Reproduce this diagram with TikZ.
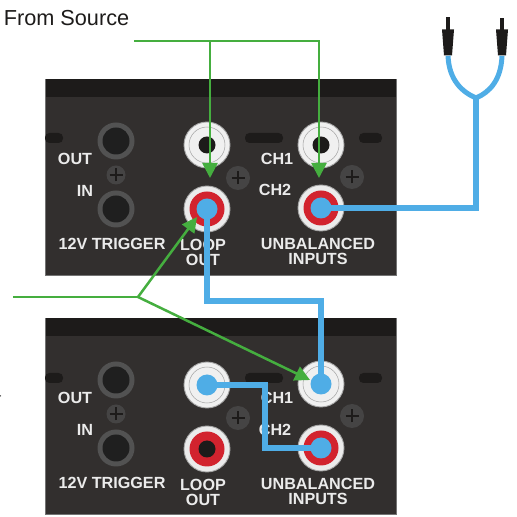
\documentclass[tikz,border=0pt]{standalone}
\usepackage{xcolor}
\usepackage{fontspec}
\setmainfont{Liberation Sans}
\usepackage{tikz}
\usetikzlibrary{arrows.meta, positioning}
\definecolor{panelgray}{HTML}{322F2E}
\definecolor{bandgray}{HTML}{1D1B1A}
\definecolor{jackred}{HTML}{D2232E}
\definecolor{wireblue}{HTML}{4FADE6}
\definecolor{feedgreen}{HTML}{45AE3F}
\definecolor{screwgray}{HTML}{454444}

\begin{document}
\begin{tikzpicture}[
    node distance=1cm,
    on grid,
    panel/.style={draw=black!55, line width=0.3pt, fill=panelgray, minimum width=7.02cm, minimum height=3.92cm, inner sep=0pt},
    band/.style={fill=bandgray, minimum width=7cm, minimum height=0.36cm, inner sep=0pt},
    slot/.style={fill=bandgray, rounded corners=2.5pt, minimum height=0.2cm, inner sep=0pt},
    trigjack/.style={circle, fill=black!68, minimum size=0.74cm, inner sep=0pt, path picture={
        \fill[black!88] (path picture bounding box.center) circle (0.27cm);}},
    whitejack/.style={circle, draw=black!35, line width=0.5pt, fill=white!94!black, minimum size=0.92cm, inner sep=0pt, path picture={
        \draw[black!35, line width=0.3pt] (path picture bounding box.center) circle (0.36cm);
        \fill[bandgray] (path picture bounding box.center) circle (0.17cm);}},
    redjack/.style={circle, draw=black!35, line width=0.5pt, fill=white!92!black, minimum size=0.92cm, inner sep=0pt, path picture={
        \fill[jackred] (path picture bounding box.center) circle (0.35cm);
        \fill[bandgray] (path picture bounding box.center) circle (0.17cm);}},
    screw/.style={circle, fill=screwgray, minimum size=#1, inner sep=0pt, path picture={
        \draw[bandgray, line width=1.3pt] ([xshift=-0.13cm]path picture bounding box.center) -- ([xshift=0.13cm]path picture bounding box.center);
        \draw[bandgray, line width=1.3pt] ([yshift=-0.13cm]path picture bounding box.center) -- ([yshift=0.13cm]path picture bounding box.center);}},
    panellabel/.style={text=white!92!black, align=center, inner sep=0pt, font=\bfseries\fontsize{9.2}{8.6}\selectfont},
    wire/.style={draw=wireblue, line width=0.115cm},
    plugdot/.style={circle, fill=wireblue, minimum size=0.42cm, inner sep=0pt},
    feed/.style={draw=feedgreen, line width=0.05cm},
    feedarrow/.style={feed, -{Triangle[length=0.3cm, width=0.3cm]}},
    plugbody/.style={minimum width=0.24cm, minimum height=0.52cm, inner sep=0pt, path picture={
        \fill[bandgray] (path picture bounding box.north west) -- (path picture bounding box.north east)
            -- ([xshift=-0.04cm]path picture bounding box.south east) -- ([xshift=0.04cm]path picture bounding box.south west) -- cycle;}},
    plugtip/.style={fill=bandgray, minimum width=0.08cm, minimum height=0.26cm, inner sep=0pt}
]
    \useasboundingbox (0,0) rectangle (10.32,10.34);

    % Amplifier panels
    \node[panel] (panelA) at (4.41,6.8) {};
    \node[panel, below=4.78cm of panelA] (panelB) {};
    \node[band, anchor=north] (bandA) at (panelA.north) {};
    \node[band, anchor=north] (bandB) at (panelB.north) {};

    % Slots, upper panel
    \node[slot, minimum width=0.36cm] (slotleftA) at (1.08,7.58) {};
    \node[slot, minimum width=0.76cm, right=4.20cm of slotleftA] (slotmidA) {};
    \node[slot, minimum width=0.46cm, right=2.13cm of slotmidA] (slotrightA) {};

    % Slots, lower panel
    \node[slot, minimum width=0.36cm, below=4.8cm of slotleftA] (slotleftB) {};
    \node[slot, minimum width=0.76cm, below=4.8cm of slotmidA] (slotmidB) {};
    \node[slot, minimum width=0.46cm, below=4.8cm of slotrightA] (slotrightB) {};

    % Jacks, upper panel
    \node[trigjack, above left=0.72cm and 2.09cm of panelA] (outA) {};
    \node[trigjack, below=1.36cm of outA] (inA) {};
    \node[whitejack, above left=0.64cm and 0.27cm of panelA] (loopinA) {};
    \node[redjack, below=1.28cm of loopinA] (loopoutA) {};
    \node[whitejack, right=2.28cm of loopinA] (chonejackA) {};
    \node[redjack, below=1.26cm of chonejackA] (chtwojackA) {};

    % Jacks, lower panel
    \node[trigjack, below=4.78cm of outA] (outB) {};
    \node[trigjack, below=4.78cm of inA] (inB) {};
    \node[whitejack, below=4.8cm of loopinA] (loopinB) {};
    \node[redjack, below=4.8cm of loopoutA] (loopoutB) {};
    \node[whitejack, below=4.78cm of chonejackA] (chonejackB) {};
    \node[redjack, below=4.8cm of chtwojackA] (chtwojackB) {};

    % Screws
    \node[screw=0.38cm, below=0.68cm of outA] (screwtrigA) {};
    \node[screw=0.48cm, below right=0.66cm and 0.62cm of loopinA] (screwloopA) {};
    \node[screw=0.48cm, below right=0.64cm and 0.62cm of chonejackA] (screwchA) {};
    \node[screw=0.38cm, below=0.68cm of outB] (screwtrigB) {};
    \node[screw=0.48cm, below right=0.66cm and 0.62cm of loopinB] (screwloopB) {};
    \node[screw=0.48cm, below right=0.64cm and 0.62cm of chonejackB] (screwchB) {};

    % Labels, upper panel
    \node[panellabel, below left=0.36cm and 0.82cm of outA] (outlabelA) {OUT};
    \node[panellabel, above left=0.36cm and 0.62cm of inA] (inlabelA) {IN};
    \node[panellabel, below left=0.70cm and 0.08cm of inA] (triglabelA) {12V TRIGGER};
    \node[panellabel, below left=0.86cm and 0.08cm of loopoutA] (looplabelA) {LOOP\\OUT};
    \node[panellabel, below left=0.28cm and 0.88cm of chonejackA] (chonelabelA) {CH1};
    \node[panellabel, above left=0.36cm and 0.92cm of chtwojackA] (chtwolabelA) {CH2};
    \node[panellabel, below left=0.86cm and 0.06cm of chtwojackA] (inputlabelA) {UNBALANCED\\INPUTS};

    % Labels, lower panel
    \node[panellabel, below left=0.36cm and 0.82cm of outB] (outlabelB) {OUT};
    \node[panellabel, above left=0.36cm and 0.62cm of inB] (inlabelB) {IN};
    \node[panellabel, below left=0.70cm and 0.08cm of inB] (triglabelB) {12V TRIGGER};
    \node[panellabel, below left=0.86cm and 0.08cm of loopoutB] (looplabelB) {LOOP\\OUT};
    \node[panellabel, below left=0.28cm and 0.88cm of chonejackB] (chonelabelB) {CH1};
    \node[panellabel, above left=0.36cm and 0.92cm of chtwojackB] (chtwolabelB) {CH2};
    \node[panellabel, below left=0.86cm and 0.06cm of chtwojackB] (inputlabelB) {UNBALANCED\\INPUTS};

    % Source text and stray mark
    \node[text=bandgray, font=\fontsize{12.35}{14}\selectfont, inner sep=0pt] (source) at (1.33,9.97) {From Source};
    \node[circle, fill=black!70, minimum size=0.03cm, inner sep=0pt] (mark) at (0.01,2.42) {};

    % Y cable plugs
    \node[plugbody] (plugleft) at (8.96,9.49) {};
    \node[plugtip, above=0.37cm of plugleft] (tipleft) {};
    \node[plugbody, right=1.08cm of plugleft] (plugright) {};
    \node[plugtip, above=0.35cm of plugright] (tipright) {};
    \coordinate (yjoin) at (9.52,8.38);

    % Blue dots on the jacks
    \node[plugdot] (dotloopoutA) at (loopoutA) {};
    \node[plugdot] (dotchtwoA) at (chtwojackA) {};
    \node[plugdot] (dotchoneB) at (chonejackB) {};
    \node[plugdot] (dotloopinB) at (loopinB) {};
    \node[plugdot] (dotchtwoB) at (chtwojackB) {};
    \coordinate (bendA) at (5.3,4.32);
    \coordinate (bendB) at (5.3,2.0);

    % Blue wires
    \draw[wire, line width=0.1cm] (plugleft.south) .. controls (8.98,8.74) and (9.24,8.5) .. (yjoin);
    \draw[wire, line width=0.1cm] (plugright.south) .. controls (10.02,8.74) and (9.8,8.5) .. (yjoin);
    \draw[wire] (dotchtwoA.center) -| (yjoin);
    \draw[wire] (dotloopoutA.center) |- (bendA) -| (dotchoneB.center);
    \draw[wire] (dotloopinB.center) -| (bendB) |- (dotchtwoB.center);

    % Green feeds, top
    \coordinate (feedtopstart) at (2.68,9.52);
    \coordinate (feedtoploop) at (4.2,6.78);
    \coordinate (feedtopch) at (6.38,6.78);
    \draw[feedarrow] (feedtopstart) -| (feedtopch);
    \draw[feedarrow] (feedtoploop |- feedtopstart) -- (feedtoploop);

    % Green feeds, bottom
    \coordinate (feedlowstart) at (0.26,4.4);
    \coordinate (feedsplit) at (2.76,4.4);
    \coordinate (feedlowloop) at (3.94,6.0);
    \coordinate (feedlowch) at (6.2,2.74);
    \draw[feed] (feedlowstart) -- (feedsplit);
    \draw[feedarrow] (feedsplit) -- (feedlowloop);
    \draw[feedarrow] (feedsplit) -- (feedlowch);

\end{tikzpicture}
\end{document}
